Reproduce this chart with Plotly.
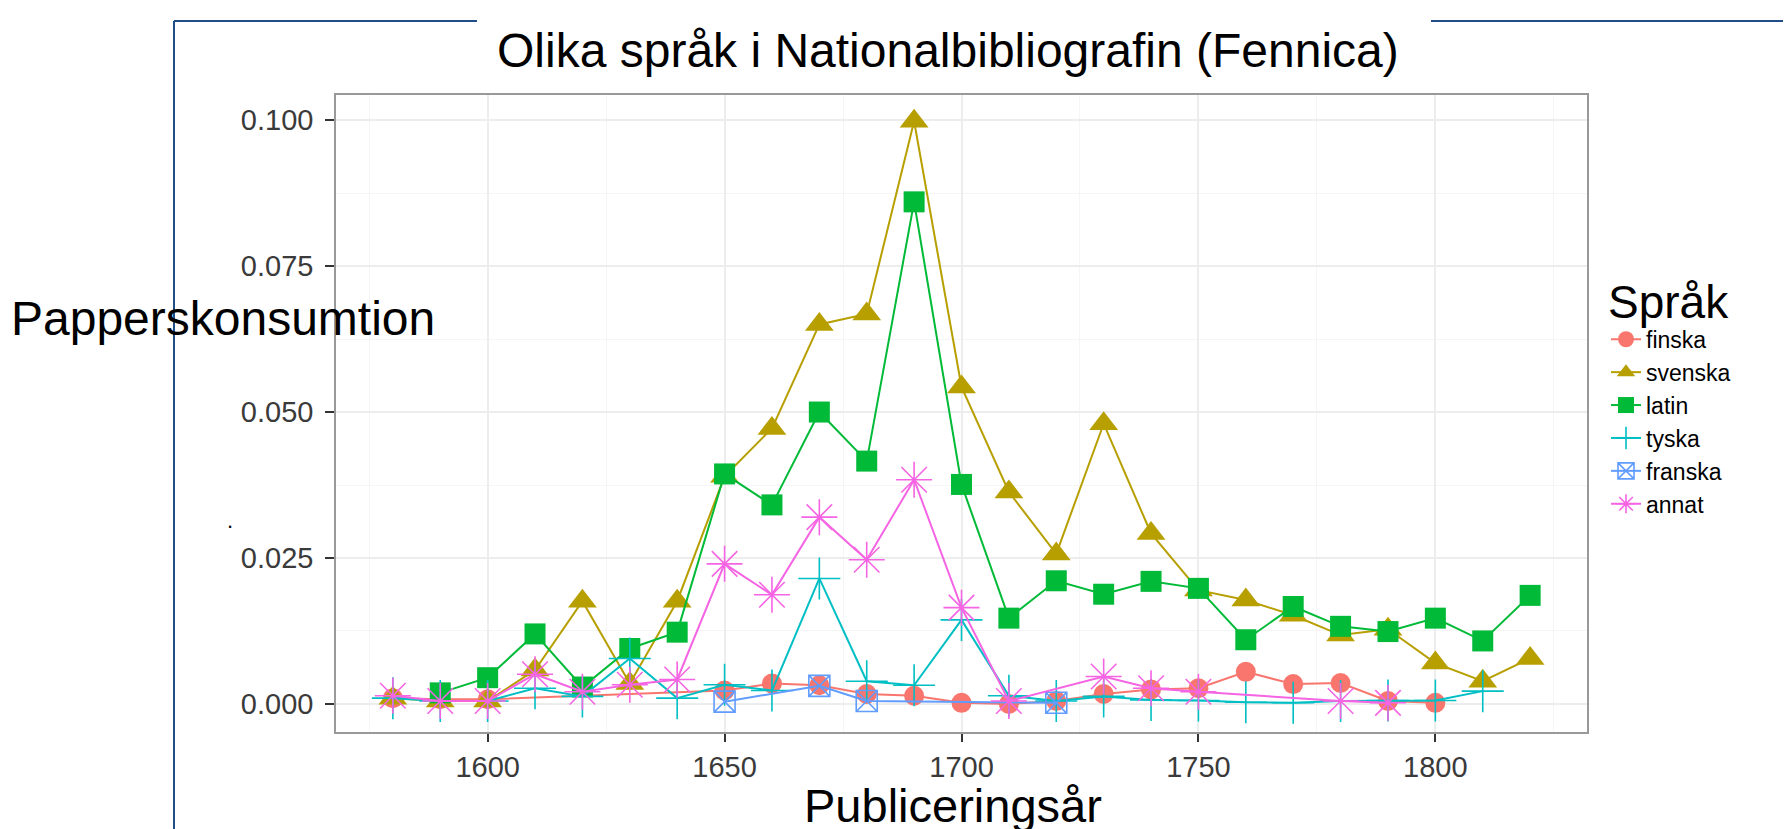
import plotly.graph_objects as go

W, H = 1791, 829
# plot panel in pixels
PL, PR, PT, PB = 328, 1579, 87, 724

years = [1580, 1590, 1600, 1610, 1620, 1630, 1640, 1650, 1660, 1670, 1680, 1690,
         1700, 1710, 1720, 1730, 1740, 1750, 1760, 1770, 1780, 1790, 1800, 1810, 1820]

finska = [0.0010, 0.0008, 0.0008, None, None, None, None, 0.0023, 0.0035, 0.0032,
          0.0017, 0.0014, 0.0002, 0.0000, 0.0005, 0.0017, 0.0025, 0.0027, 0.0055,
          0.0034, 0.0036, 0.0005, 0.0002, None, None]
svenska = [0.0010, 0.0005, 0.0005, 0.0058, 0.0176, 0.0035, 0.0176, 0.0390, 0.0472,
           0.0650, 0.0668, 0.0998, 0.0543, 0.0363, 0.0257, 0.0480, 0.0292, 0.0195,
           0.0178, 0.0152, 0.0118, 0.0128, 0.0070, 0.0039, 0.0078]
latin = [None, 0.0019, 0.0045, 0.0120, 0.0029, 0.0095, 0.0123, 0.0394, 0.0341, 0.0500,
         0.0416, 0.0860, 0.0376, 0.0147, 0.0211, 0.0188, 0.0210, 0.0198, 0.0110,
         0.0167, 0.0133, 0.0124, 0.0147, 0.0108, 0.0186]
tyska = [0.0010, 0.0005, 0.0005, 0.0027, 0.0013, 0.0078, 0.0010, 0.0033, 0.0023, 0.0215,
         0.0039, 0.0032, 0.0144, 0.0014, 0.0005, 0.0013, 0.0007, 0.0006, 0.0003,
         0.0002, 0.0005, 0.0006, 0.0006, 0.0022, None]
franska = [None, None, None, None, None, None, None, 0.0004, None, 0.0031,
           0.0005, None, None, None, 0.0002, None, None, None, None,
           None, None, None, None, None, None]
annat = [0.0014, 0.0005, 0.0005, 0.0051, 0.0021, 0.0033, 0.0042, 0.0240, 0.0187, 0.0320,
         0.0247, 0.0384, 0.0165, 0.0005, None, 0.0047, 0.0027, 0.0021, None,
         None, 0.0005, 0.0002, None, None, None]

names = ["finska", "svenska", "latin", "tyska", "franska", "annat"]
series = [finska, svenska, latin, tyska, franska, annat]
colors = ["#F8766D", "#B79F00", "#00BA38", "#00BFC4", "#619CFF", "#F564E3"]
symbols = ["circle", "triangle-up", "square", "cross-thin-open", "square-x-open", "asterisk-open"]
sizes = [20, 25, 21, 30, 21, 30]

x_ticks = [1600, 1650, 1700, 1750, 1800]
y_ticks = [0.0, 0.025, 0.05, 0.075, 0.1]
y_tick_text = ["0.000", "0.025", "0.050", "0.075", "0.100"]

title_text = "Olika språk i Nationalbibliografin (Fennica)"
x_title = "Publiceringsår"
y_title = "Papperskonsumtion"
legend_title = "Språk"


def px(x):
    return (x - PL) / (PR - PL)


def py(y):
    return (PB - y) / (PB - PT)


fig = go.Figure()
for name, vals, col, sym, sz in zip(names, series, colors, symbols, sizes):
    open_sym = sym.endswith("open")
    fig.add_trace(go.Scatter(
        x=years, y=vals, name=name, mode="lines+markers", connectgaps=True,
        line=dict(color=col, width=2),
        marker=dict(symbol=sym, size=sz, color=col,
                    line=dict(color=col, width=1.6 if open_sym else 0)),
    ))

grid_major = "#EDEDED"
grid_minor = "#F5F5F5"
fig.update_xaxes(
    range=[1568, 1832], tickvals=x_ticks, ticktext=[str(v) for v in x_ticks],
    showgrid=True, gridcolor=grid_major, gridwidth=1.5, zeroline=False,
    showline=True, mirror=True, linecolor="#999999", linewidth=1.5,
    ticks="outside", ticklen=8, tickwidth=2, tickcolor="#333333",
    tickfont=dict(family="Liberation Sans, Arial", size=29, color="#3A3A3A"),
    minor=dict(dtick=25, tick0=1575, showgrid=True, gridcolor=grid_minor, gridwidth=1),
)
fig.update_yaxes(
    range=[-0.0048, 0.1043], tickvals=y_ticks, ticktext=y_tick_text,
    showgrid=True, gridcolor=grid_major, gridwidth=1.5, zeroline=False,
    showline=True, mirror=True, linecolor="#999999", linewidth=1.5,
    ticks="outside", ticklen=9, tickwidth=2, tickcolor="#333333",
    ticklabelstandoff=6,
    tickfont=dict(family="Liberation Sans, Arial", size=29, color="#3A3A3A"),
    minor=dict(dtick=0.0125, tick0=0.0125, showgrid=True, gridcolor=grid_minor, gridwidth=1),
)

shapes = [
    # white patch that hides part of the grid behind the y title area
    dict(type="rect", xref="paper", yref="paper", x0=px(223), x1=px(470), y0=py(577), y1=py(240),
         fillcolor="white", line=dict(width=0), layer="between"),
    # slide frame lines
    dict(type="line", xref="paper", yref="paper", x0=px(166), x1=px(166), y0=py(13), y1=py(829),
         line=dict(color="#1F4E89", width=2)),
    dict(type="line", xref="paper", yref="paper", x0=px(166), x1=px(469), y0=py(13), y1=py(13),
         line=dict(color="#1F4E89", width=2)),
    dict(type="line", xref="paper", yref="paper", x0=px(1423), x1=px(1791), y0=py(13), y1=py(13),
         line=dict(color="#1F4E89", width=2)),
]

font_main = "Liberation Sans, Arial"
annotations = [
    dict(text=title_text, x=px(940), y=py(43), xref="paper", yref="paper", showarrow=False,
         xanchor="center", yanchor="middle", font=dict(family=font_main, size=48, color="black")),
    dict(text=y_title, x=px(1), y=py(310), xref="paper", yref="paper", showarrow=False,
         xanchor="left", yanchor="middle", font=dict(family=font_main, size=48, color="black")),
    dict(text=x_title, x=px(945), y=py(797), xref="paper", yref="paper", showarrow=False,
         xanchor="center", yanchor="middle", font=dict(family=font_main, size=47, color="black")),
    dict(text=".", x=px(222), y=py(512), xref="paper", yref="paper", showarrow=False,
         xanchor="center", yanchor="middle", font=dict(family=font_main, size=22, color="black")),
]

fig.update_layout(
    width=W, height=H,
    margin=dict(l=PL, r=W - PR, t=PT, b=H - PB),
    paper_bgcolor="white", plot_bgcolor="white",
    shapes=shapes, annotations=annotations,
    showlegend=True,
    legend=dict(
        xref="container", yref="container", x=1598 / W, y=1 - 250 / H,
        xanchor="left", yanchor="top",
        title=dict(text=legend_title, font=dict(family=font_main, size=46, color="black")),
        font=dict(family=font_main, size=23, color="black"),
        bgcolor="rgba(0,0,0,0)", tracegroupgap=0, itemwidth=30,
    ),
)

fig.write_html("out.html")
